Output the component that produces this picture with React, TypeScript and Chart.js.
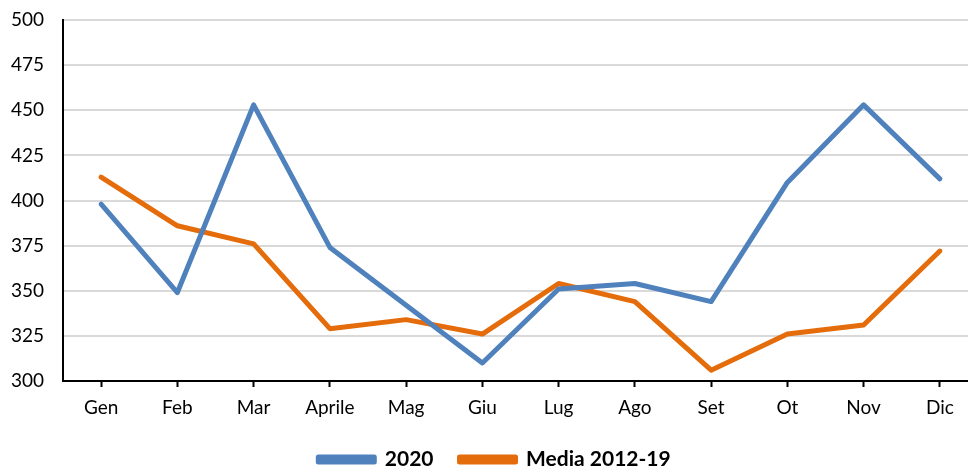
import React, { useEffect, useRef } from "react";
import { Chart, registerables } from "chart.js";

Chart.register(...registerables);

const categories = ["Gen", "Feb", "Mar", "Aprile", "Mag", "Giu", "Lug", "Ago", "Set", "Ot", "Nov", "Dic"];
const series2020 = [398, 349, 453, 374, 342, 310, 351, 354, 344, 410, 453, 412];
const seriesMedia = [413, 386, 376, 329, 334, 326, 354, 344, 306, 326, 331, 372];
const yMin = 300;
const yMax = 500;
const yStep = 25;

export default function App() {
  const ref = useRef<HTMLCanvasElement | null>(null);
  useEffect(() => {
    if (!ref.current) return;
    const font = "Lato, 'Liberation Sans', sans-serif";
    const chart = new Chart(ref.current, {
      type: "line",
      data: {
        labels: categories,
        datasets: [
          {
            label: "2020",
            data: series2020,
            borderColor: "#4f81bd",
            backgroundColor: "#4f81bd",
            borderWidth: 5,
            pointRadius: 0,
            borderCapStyle: "round",
            borderJoinStyle: "round",
            tension: 0,
          },
          {
            label: "Media 2012-19",
            data: seriesMedia,
            borderColor: "#e46c0a",
            backgroundColor: "#e46c0a",
            borderWidth: 5,
            pointRadius: 0,
            borderCapStyle: "round",
            borderJoinStyle: "round",
            tension: 0,
          },
        ],
      },
      options: {
        animation: false,
        responsive: true,
        maintainAspectRatio: false,
        layout: { padding: { top: 20, left: 11, right: 0, bottom: -10 } },
        plugins: {
          tooltip: { enabled: false },
          legend: {
            position: "bottom",
            labels: {
              boxWidth: 56,
              boxHeight: 5,
              padding: 26,
              color: "#000",
              font: { family: font, size: 21, weight: "bold" },
            },
          },
        },
        scales: {
          x: {
            offset: true,
            afterFit: (scale: any) => {
              scale.height = 42;
            },
            grid: {
              offset: false,
              drawOnChartArea: false,
              drawTicks: true,
              tickLength: 6,
              tickColor: "#000",
              tickWidth: 2,
            },
            border: { display: true, color: "#000", width: 2 },
            ticks: { color: "#000", padding: 9, font: { family: font, size: 19 } },
          },
          y: {
            min: yMin,
            max: yMax,
            afterFit: (scale: any) => {
              scale.width = 52;
            },
            ticks: { stepSize: yStep, color: "#000", padding: 0, crossAlign: "far", font: { family: font, size: 19 } },
            grid: { color: "#d9d9d9", lineWidth: 2, drawTicks: false },
            border: { display: true, color: "#000", width: 2 },
          },
        },
      },
    });
    return () => chart.destroy();
  }, []);
  return (
    <div style={{ position: "fixed", left: 0, top: 0, width: 968, height: 470, overflow: "hidden", background: "#fff" }}>
      <div style={{ position: "absolute", left: 0, top: 0, width: 978, height: 470 }}>
        <canvas ref={ref} />
      </div>
    </div>
  );
}
